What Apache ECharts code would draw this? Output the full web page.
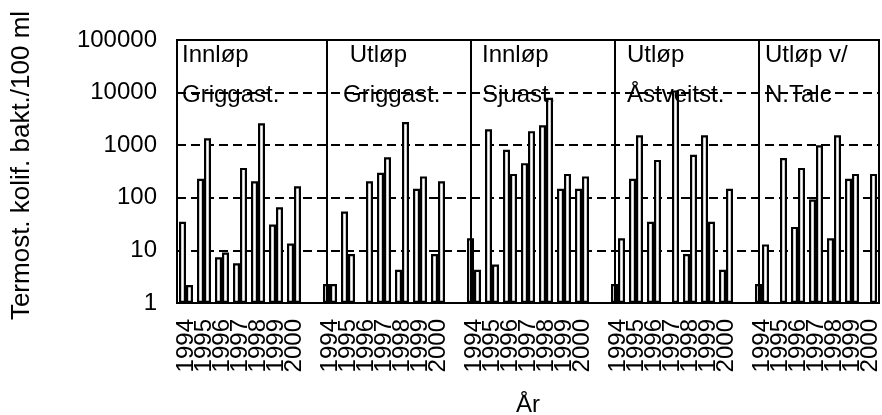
<!DOCTYPE html>
<html>
<head>
<meta charset="utf-8">
<script src="https://cdn.jsdelivr.net/npm/echarts@6/dist/echarts.min.js"></script>
<style>html,body{margin:0;padding:0;background:#fff}#c{width:882px;height:415px}</style>
</head>
<body>
<div id="c"></div>
<script>
// ---- data ----
var years = ['1994', '1995', '1996', '1997', '1998', '1999', '2000'];
var panelTitles = ['Innløp\nGriggast.', ' Utløp\nGriggast.', 'Innløp\nSjuast.', 'Utløp\nÅstveitst.', 'Utløp v/\nN.Talc'];
var yTicks = [1, 10, 100, 1000, 10000, 100000];
// first bar of each year pair
var firstBars = [
  [35, 230, 7.4, 5.7, 206, 31, 13.5],      // Innløp Griggast.
  [2.3, 55, null, 300, 4.3, 148, 8.5],     // Utløp Griggast.
  [17, 2000, 815, 456, 2400, 148, 148],    // Innløp Sjuast.
  [2.3, 230, 35, null, 8.5, 1550, 4.3],    // Utløp Åstveitst.
  [2.3, null, 28, 93, 17, 230, null]       // Utløp v/ N.Talc
];
// second bar of each year pair
var secondBars = [
  [2.2, 1350, 9.1, 370, 2600, 66, 166],
  [2.3, 8.5, 206, 590, 2750, 255, 206],
  [4.3, 5.4, 285, 1850, 8000, 285, 255],
  [17, 1550, 525, 11000, 660, 35, 148],
  [13, 570, 370, 1000, 1550, 285, 285]
];

// ---- build category axis with a blank slot between panels ----
var cats = [], s1 = [], s2 = [], panelStart = [];
for (var p = 0; p < firstBars.length; p++) {
  if (p > 0) { cats.push(''); s1.push(null); s2.push(null); }
  panelStart.push(cats.length);
  for (var i = 0; i < years.length; i++) {
    cats.push(years[i]);
    s1.push(firstBars[p][i]);
    s2.push(secondBars[p][i]);
  }
}

var FONT = '"Liberation Sans", Arial, sans-serif';
var chart = echarts.init(document.getElementById('c'), null, {renderer: 'canvas'});

var titleX = [182, 343, 482, 627, 765];
var graphics = panelTitles.map(function (t, k) {
  return {
    type: 'text', left: titleX[k], top: 35, z: 100,
    style: {text: t, font: '24px ' + FONT, fill: '#000', lineHeight: 40}
  };
});

var barStyle = {color: '#fff', borderColor: '#000', borderWidth: 2.2};

chart.setOption({
  animation: false,
  backgroundColor: '#fff',
  grid: {left: 177, top: 40, right: 3, bottom: 112, outerBoundsMode: 'none', containLabel: false,
         show: true, borderColor: '#000', borderWidth: 2, backgroundColor: 'transparent'},
  xAxis: {
    type: 'category', data: cats,
    name: 'År', nameLocation: 'middle', nameGap: 90,
    nameTextStyle: {fontFamily: FONT, fontSize: 24, color: '#000'},
    axisLine: {lineStyle: {color: '#000', width: 2}},
    axisTick: {show: false},
    axisLabel: {interval: 0, rotate: 90, fontFamily: FONT, fontSize: 24, color: '#000', margin: 16}
  },
  yAxis: {
    type: 'log', logBase: 10, min: yTicks[0], max: yTicks[yTicks.length - 1],
    name: 'Termost. kolif. bakt./100 ml', nameLocation: 'middle', nameGap: 142,
    nameTextStyle: {fontFamily: FONT, fontSize: 26, color: '#000', padding: [0, 0, 0, 12]},
    axisLine: {show: true, lineStyle: {color: '#000', width: 2}},
    axisTick: {show: false},
    axisLabel: {fontFamily: FONT, fontSize: 24, color: '#000', margin: 20, padding: [16, 0, 0, 0],
                formatter: function (v) { return String(Math.round(v)); }},
    splitLine: {show: true, lineStyle: {color: '#000', width: 2, type: [9, 5]}}
  },
  series: [
    {
      type: 'bar', data: s1, barWidth: 7, barGap: '0%', itemStyle: barStyle,
      markLine: {
        silent: true, symbol: ['none', 'none'], label: {show: false},
        lineStyle: {color: '#000', width: 2, type: 'solid'},
        data: panelStart.slice(1).map(function (idx) { return {xAxis: idx}; })
      }
    },
    {type: 'bar', data: s2, barWidth: 7, barGap: '0%', itemStyle: barStyle}
  ],
  graphic: graphics
});
</script>
</body>
</html>
